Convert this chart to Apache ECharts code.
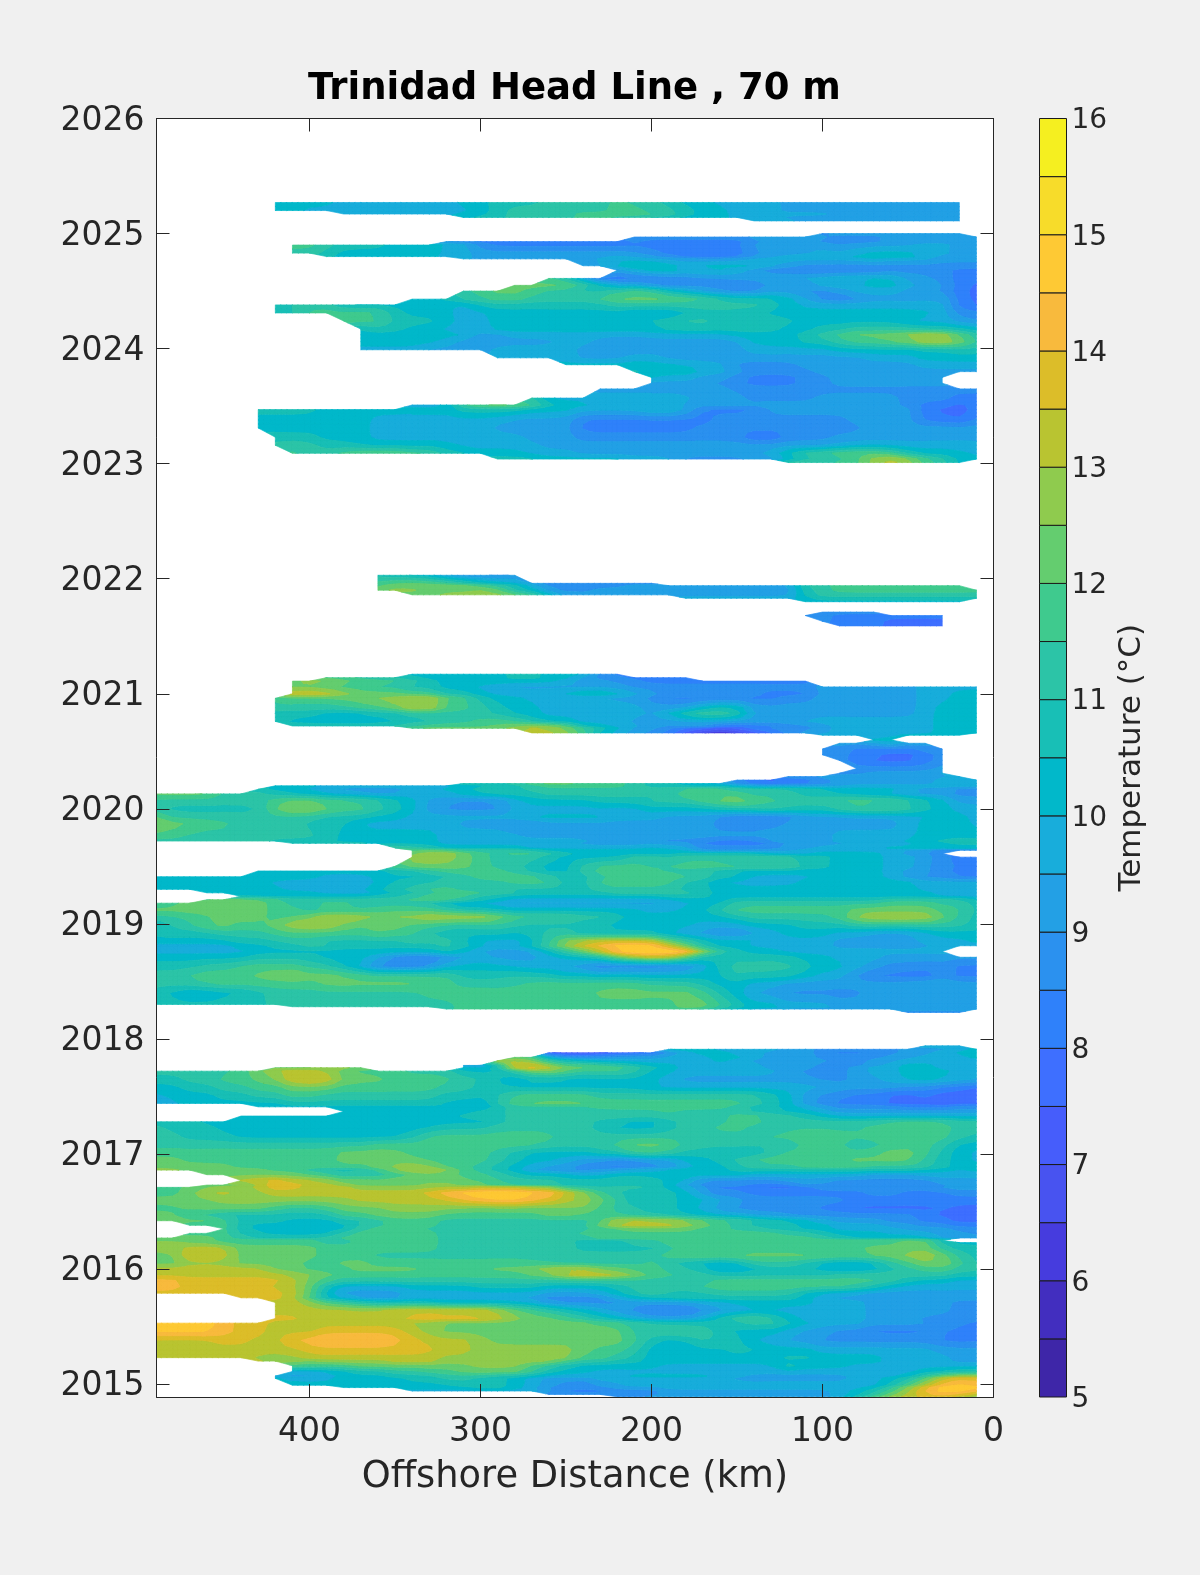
<!DOCTYPE html>
<html><head><meta charset="utf-8"><style>html,body{margin:0;padding:0;background:#F0F0F0}#c{width:1200px;height:1575px}</style>
<script src="https://cdn.jsdelivr.net/npm/echarts@6/dist/echarts.min.js"></script></head><body><div id="c"></div>
<script>
const yearTicks=[2015,2016,2017,2018,2019,2020,2021,2022,2023,2024,2025,2026];
const kmTicks=[0,100,200,300,400];
const colorbarTicks=[5,6,7,8,9,10,11,12,13,14,15,16];
const levelColors=["#3E26A8","#422EBF","#463CDE","#4853F0","#465DFB","#3E6FFF","#2F81FA","#2B91EF","#23A0E5","#18ADDB","#01B8CA","#18BFB6","#2CC4A7","#3FCA8E","#64CD6F","#8FCB4E","#B9C431","#DCBD29","#F8BA3D","#FEC934","#F7DC2A","#F5EF20"];
const levelLetters="abcdefghijklmnopqrstuv"; // a = 5.0-5.5 C, b = 5.5-6.0 C ... v = 15.5-16 C
const firstKm=490, stepKm=10; // columns run 490, 480 ... 10 km
// [year, temperature band per column; groups of ten columns; "." = no data]
const rows=[
[2025.27,".......kkk kjjjjjjjkk lllmmmmnmm lkkjjjjiii iiiiiiii."],
[2025.20,".......kkj jjjjjjjjjk lmmmmmmnnm mlkkjjjiii iiiiiiii."],
[2025.17,".......... .jjjjjjjkk lmmmmnnnnn mlkkjjjjjj iiiiiiii."],
[2025.14,".......... ........kl lmmmmnnmml lkkkjjjiii iiiiiiii."],
[2025.11,".......... .......... .......... .....jjjii iiiiiiii."],
[2025.06,""],
[2025.00,".......... .......... .......... .........h iiiiiiii."],
[2024.97,".......... .......... ........hh hhhhhiiiii hhhiiiiii"],
[2024.93,".......... .......hhg gggggggghg ggggghiiih hhhiiiiii"],
[2024.90,"........nn mlllkkkkjh gggggggggg gggggiiiji hiiiijjii"],
[2024.83,"........mm lkkkkkkjji iiiiiiiiih ggggghiiij jjkkkjjii"],
[2024.80,".......... lkkkkkkjji iiiiiiijii hggggiijjj jkkkkjiii"],
[2024.78,".......... ........ji iiiiiijjji iihhiijjjj jjkjjjiii"],
[2024.72,".......... .......... .....iikll kjkkkkjihh hhhhhhhhh"],
[2024.68,".......... .......... .......ijk ljkkjigggg ggghhhhgg"],
[2024.61,".......... .......... ...nliffgg ghhhiijjjj kkkkiihgg"],
[2024.55,".......... .......... .oooonljjh hhhhggiiij jjkkjiigf"],
[2024.50,".......... ........mn oonmmllmnn kjihhhiihh ijjjiihgf"],
[2024.43,".......... .....kklmm nnmmmmnooo oonmlllkjh ghiiiijgf"],
[2024.38,".......kmm mkkkkkkjjl lllllllmmm mmmmmmlkjj jjjjjjjgf"],
[2024.31,".......lln nnnnlkkkjj kkkkkkkkjj jkllllkkkk kkkkkkjhh"],
[2024.24,".......... .nnnlllkjj kkkkkkkkkl lmmlllllkk kkkkjjjih"],
[2024.17,".......... ..kllkkjjj kkkkkkkkkk lllllllkkl lmmmmlllk"],
[2024.12,".......... ..kkkkkkki ijjjjjjjjj jjjjkkkklm nooopqqnm"],
[2024.06,".......... ..kkkkkjih iiiijjihhi iiiiikkkll mnnooqqpm"],
[2023.99,".......... ..jjjjiiii jjjjjiiiii iiiiijjjjj kkkkkkkll"],
[2023.92,".......... .......... jjjjjiiijj iiiiiiiiii iijjjkkkk"],
[2023.86,".......... .......... ....kkkkkk kjjjhhhhii iiiiijjjj"],
[2023.80,".......... .......... ........lk kljjihhhhi iiiiiiiii"],
[2023.75,".......... .......... .........k jjiihggghh iiiiiii.."],
[2023.70,".......... .......... .........i iiihhggghh iiiiiii.."],
[2023.65,".......... .......... ......iiii iiiihhhhhh hhhhhhhhh"],
[2023.57,".......... .......... ..mjjjjjjj jjiiihhhhi iiiihhhgg"],
[2023.51,".......... .....jjjno oonlkkjjjj jiiiiiiiii iiiihggfg"],
[2023.47,"......llll kkkkkkkkll llkkkjjjjk kjggggiiii iiiiigffg"],
[2023.38,"......kkkk kkkjjjjjjj jiiiiggggg ggghhhhhhh hiiiiggfh"],
[2023.31,"......kkkk kkkjjjjjjj iiiiiggggg gghhhhhhhh hhiiiiiii"],
[2023.23,".......lll kkkjjjjjjj jjiiihhhhh hhhhhffhhh iiiiiiiii"],
[2023.16,".......mmm llkkkkkkjj jjjiiiiiii iiiiiiiiii ijjjjjjjj"],
[2023.09,"........nm mnooonnllk kkjjjiiiii iiiiiijlmn ooonlkkkj"],
[2023.04,".......... .......... lllkkkkkjj jhhhhiijml mnpqpnmkk"],
[2023.01,".......... .......... .......... .......mmm nnpqpnmk."],
[2022.50,""],
[2022.03,".......... ...lkkjihh hh........ .......... ........."],
[2021.96,".......... ...nooonml kkihhhhhhh .......... ........."],
[2021.94,".......... ...nooooon mljhhhhhii iiiiiiiimm nnnnnnnn."],
[2021.90,".......... ...oppooop olkihhiiii iiiiiiiilm nnnnnnnnn"],
[2021.86,".......... .....ooppp ponkiiiiii iiiiiiiilm mmmmmmmmm"],
[2021.83,".......... .......... .......... .jjjjjjjkl lllllllll"],
[2021.80,".......... .......... .......... ........kk kkkkkkkk."],
[2021.75,""],
[2021.71,".......... .......... .......... .........h hhh......"],
[2021.68,".......... .......... .......... ........hh ggggggg.."],
[2021.63,".......... .......... .......... .........h gggffff.."],
[2021.59,".......... .......... .......... .......... gggffff.."],
[2021.40,""],
[2021.17,".......... .....kkkkk kllkkkhg.. .......... ........."],
[2021.14,".......... nnmmllkkkk kllkkihhgg gg........ ........."],
[2021.11,"........op ponnnmlkkk kkkkjiihhg ggggggggg. ........."],
[2021.06,"........oo nnnmmllkkj jiiiiiiihh hhhhhhhhhi iiiiijjjj"],
[2021.00,"........rr rpooonnllk jjjjkllkji hhhhhhgggi iiiiijjkk"],
[2020.96,".......nnn nooppqqonl kkjjiiiiih ggggggghhi iiiiijjkk"],
[2020.88,".......mmm mmnnoqqnnm lkkjjjjjji iiklliiiii iiiiijkkk"],
[2020.83,".......lll kkkllmmmmm lkkjjjjjji kmnnmiiiii iiiiijkkk"],
[2020.76,".......lkk kkkkkllmmn nnlkkjjjii iiiiiiiijj jjjjjjkkk"],
[2020.72,"........ll llllmmnnnn ooppokkjji hiigfgghhi jjjjjjkkk"],
[2020.70,".......... .....noooo opqponlkii hffefghhhi jjjjjjkkk"],
[2020.66,".......... .......... ..qqpnkjih gecbcefhii jjjjjjkkk"],
[2020.64,".......... .......... .......... .........j jjjjkkkk."],
[2020.60,".......... .......... .......... .......... ..kk....."],
[2020.57,".......... .......... .......... .......... iiikii..."],
[2020.52,".......... .......... .......... .........h hgggghh.."],
[2020.47,".......... .......... .......... .........h hggffgh.."],
[2020.42,".......... .......... .......... .......... hgfffgh.."],
[2020.35,".......... .......... .......... .......... .hhhhhi.."],
[2020.31,".......... .......... .......... .......... hhiiiij.."],
[2020.28,".......... .......... .......... .......hhi iiiiiiij."],
[2020.25,".......... .......... .......... ....hgfggh iiiiiijjj"],
[2020.22,".......... ........ll lmnoonnnml lkkjhgfggh iiiiiijjj"],
[2020.20,".......kkk jjjjjjjjkk llmnnnnnml lkkkjiiiii ijjjjjjjj"],
[2020.17,"......lkkj jiiiijjkkl llmmmmmmmm mnnnmmmmll kkkkjiihh"],
[2020.13,"oooommmlkk jjiiijjjkl lllmmmmmml mnonnmmmll kkjjiiihh"],
[2020.07,"mmmmmmmnoo nnnmlkiihh hjkkkklllm mmnopnnmmm nnnnmlkii"],
[2020.00,"mllllllopp onnmlkihhh hjjjjjjjjk kkkllmmmll mnnnmlkjj"],
[2019.93,"ommmmmmmmm lllkkjjjjj jjkkkkkjjj iiihggggii iiiijjkkj"],
[2019.87,"poonnmmmml lljjjjjjii ihhiiiiiii iiihhhhiii iiiijkkkj"],
[2019.77,"nnmmmmmmmm lkkkkkkjjj jjiiiiiiii iiiiiiiiii jjjjjkkkk"],
[2019.72,"mmmmmmmlll lkkkkkkjjj jjjjjjiiii hhhgggiiii jjjjkklll"],
[2019.70,"........ll lllkkkkjjj jjjjjiiiii iigggggiii ijjjjkkll"],
[2019.66,".......... ....nmlkkk kkjjjjjjjk jjhhhhhiij jjjkkkkkk"],
[2019.64,".......... .....nonmm mmlkkkkkkk kjhhhhiijj jjjjiiggg"],
[2019.61,".......... .....opqon mnnmlkkkkk kllllljjjk kkkjiig.."],
[2019.58,".......... .....pqpon mmmlkkkkmm lmmmmmmmll kkkjjihgg"],
[2019.50,".......... ....noooon mmlkkmnnnm nnnnnnnnll kkkjjighg"],
[2019.46,"......kkkk kkkkllmnnn nmlkkmnnnn mmmlkkkkkk kkkjiihgg"],
[2019.41,"kkkkkkkkkk jjjkkkllmn nnnmllmnnn nnmlljjjjk kkkjihhgg"],
[2019.36,"kkkkkkkjjj jjjjlllmmm mnnnllnnnn nlljjjjjkk kkkkkjjjj"],
[2019.30,"kkkkkkkkjj jjjllmnnmm mlllllmmmm mllkkkkkkk kkkkkjjjj"],
[2019.27,"...kkkkkkk jjjjllmnnn mmlllllmmm mmlkkkkkkk kkkkkkjjj"],
[2019.24,".....kkkkk kkkllmnnnl lkkkkkkkkk lllkkkkkkk kkkkkkjjj"],
[2019.21,"...nooonmm mmmmmnnnml kjjjjjjjjj jkkkllllll lllmmmmmk"],
[2019.18,"nnooooonmm nnmmmmlkjj jiiiiiiiii jjkkmmmmmm mmmnnnmml"],
[2019.12,"ooooooonnm mmmnnnnmll kkkkkkkkkj jkkmnnnnnn nooooonnl"],
[2019.06,"mmnnooonno qqqoppqqqq pnnnnmmlkk kkkklmmmmm npqqqqoml"],
[2018.99,"kmmoonnoqq qonoonnmmm mmlllllkkk kkjjjkkkll lmmmmmmml"],
[2018.92,"llllmmmnnn nnnonnllkl lklmmkkkkk jiihhijkkk jjiiijkkk"],
[2018.85,"kkkkklllmm lllllmmmlj jjkmpqrrrr onlkkkjjjj iiiiijjjk"],
[2018.81,"jjjjjkkllm mllllllmlk jjlnprsttt qnlkkjjjjj iiiiiijjj"],
[2018.76,"jjjjjjkkkk kkkkkkklki iiikmoqtuu uuqmlkkjjj jjjjjjj.."],
[2018.71,"kkkkkkllll kkkjhgghij iiijkkmoqr roklllllkk jjjiiiiii"],
[2018.63,"lllmmnnnnm mkjggghjkk kjjjiifgff fgjlmmmmlk kjihhhhgg"],
[2018.55,"mmnnnnoopo oonnnnnnll lmllkkkkkk kkkkmlllkj jhgggfhgg"],
[2018.48,"mmmnnnnnnn oooooonnmm mmnnnnnnnm mmlkkjjiii iiiiijjii"],
[2018.40,"lkjjkklmmm mmmmmmnnnn nnnnnnoooo oonlkiihhh hhiiiiiii"],
[2018.30,"lllllllmmm mmmmmmmmnn nnnnnnnnnn noonlkkjjj iiiiiiiii"],
[2018.28,"........mm mmmmmmmmnn nnnnnnnnnn noomlkkjjj iiiiiiiii"],
[2018.26,".......... .......mnn nnnnnnnnnn nnmlkjjiii iiiiiiiii"],
[2018.23,".......... .......... .......... .......... ....hhhh."],
[2018.10,""],
[2017.94,".......... .......... .......... .......... .....jjj."],
[2017.91,".......... .......... .......... kkkjjjjiih hhhhiiijk"],
[2017.88,".......... .......... ...eddeeff hjkkjjiiih gghhiijkk"],
[2017.84,".......... .......... .nojhhhiii jjjkkjiiih hhhiijjjk"],
[2017.81,".......... .......... qqomlkjjjj jjjkjiiiii hhiijjjjj"],
[2017.77,".......... ........ii krrpnnnmlk kjjjjjiiih hhijkkjjj"],
[2017.75,".......ooo ppo.....kj lrrqoonnml kjjjjjiiih hijjkkjjj"],
[2017.72,"mmmmmnoqqq ponnnmmmkk llppomnnmk kjjjjjjihh hijjkkkjj"],
[2017.65,"llmmnnoorr rooonnnnmm kkkkkkkkkk jiiiiiiiih hiijkkkjj"],
[2017.58,"kkllmmnnoo onnnnnnmml lkkkkkkkkj jjjjjjjjjj iiiihhggf"],
[2017.51,"jkkkllmmnn mmmmmmmlll lnnnnnmmmm mmmmmmlkih hggffgffe"],
[2017.44,"jjkkkkkkll lllllllkkj mnoooonnnn nnnnnmlkih gggfffeff"],
[2017.41,"......kkkk kkkkkkklkj lmmmmmnnnn nnnnmllkji hhhhggghh"],
[2017.37,".......... .kkkkkkkkl lmmmmmmmmm nmmmmllkkj iiiiiiiii"],
[2017.33,".....kkkkk kkkkkkkkll lmmmmmmmmm mmmmnnmmlk jjjjjjjjj"],
[2017.28,"lllkkkkkkk kkkkkkkkkk lmmmmmllkk lmmmnnmmmm mmmnnnnmm"],
[2017.23,"mlllkkkkkk kkkkkkklll mmmmmmlkkk lmmnnmmmmm mmnnnnnmm"],
[2017.15,"mmlllkkkkk kkkkklnnnn nnnnmmmmmm mmmmmmnnoo nnnnnnnml"],
[2017.08,"mmmmmmmmmm mmmnnnnnnn nnnmmmmnoo ommmmmllnn nlmnnnmkk"],
[2017.01,"nnnnnnnnnn noooonnnnn mlkkkkllnn mllkkkmnnn nnnoonlkj"],
[2016.95,"oonnnnnnnn nooooonnnn mlkkjiihhi ikklmnnnnn noooomlkj"],
[2016.89,"ooooonnnnn nnnopppnnm lkjiihgggh hjkklmmmnn nnmmmmlkk"],
[2016.86,"ppooooonnm lllnoqqpnm lkiihhiijj kkkkllllll lllllkkjk"],
[2016.82,"...oooooon nlmlnnoonn mlkkkjjkkk kkkkkjjjjj jjiiijjjj"],
[2016.77,".....qrrqq poooooooon nmmmlllmml kkhhhhhiii hhhhhhiii"],
[2016.73,"...ooopsrq qpooooppoo mmmmlllllm kihhhgggih hhhhhhhii"],
[2016.71,"nnooppqrrq qqpppppppq qqppmmlmml kjigggffgh hhhhhhiii"],
[2016.66,"nnoqqppqqq qqqqqqrttu uuttrpnllm lkighggggg gghhggghh"],
[2016.60,"oooopppppp ppqqqqqqss ttsrqponkk lkkjihhhhh hgggggggg"],
[2016.53,"nnooooonmm noooppppoo ooooopnmml lkjihhhhhg gfffffgff"],
[2016.47,"oommllllll lnnoooonnn nnnoonnmml lkkjjiihhh hhhhhgfff"],
[2016.42,"oooonlllkk kllmnnnmmm mmmmmmnqqq qponnmllkj iiihhggff"],
[2016.38,"..nnnlkkkk kkmmnnnmmm mmmmmmoqqq qponmlllkk jjjiihhgg"],
[2016.35,"....nlkkkk kkmnnnmmmm mmmmmmnnoo oonnmmllkk jjjjiiihh"],
[2016.31,"..nnnllkkk kmnnnnnmmm mmmmmnnnnn nnnnnnnmml kkkjjjiih"],
[2016.27,"oooonmllll mnnnnnnmmm mmmmmmnnnn nnnnnnnnnm lkkkkjiii"],
[2016.25,"oooonnnnnn mmnnnnnmmm mmmmmlllmm nnnnnnnnnn nnnnool.."],
[2016.23,"ppoonnnnnn mmnnnnnmmm mmmmmlllmm nnnnnnnnnn nnnnoolkk"],
[2016.18,"ppqqqooooo nnnnnnnmmm mmmmmlllll mnnnnnnnnn nnoooomll"],
[2016.12,"oorrqooooo nnnmmmmmmm mmmmmmmmmm nooooooooo oooopqoml"],
[2016.05,"oopppoooon noonnnnnnn nnnmmmmmmn mkkjkmmmlk jjkmnopnl"],
[2016.00,"qqqqqqqoon nnoooonnnn oooqqqoonn mmljjklllk jjklmnnmm"],
[2015.95,"qqqqqqqqpp onnnnnnnnn nnooqrrqpn nmmlllllll mmmmmmmll"],
[2015.90,"ssrrrrrrqo nmmmmmmmmm mmmmmmmmmm mmmnnnnnnn nnnmlkkjj"],
[2015.85,"ssrrrrrqqo ljjjjkkkkl lllkkkklmm mmnnnnnnnn nnlkjjjjj"],
[2015.79,"rrrrrqrrqo kiiiijjjjj jjjiiijkln lllmmmmmkj jiiiiiiii"],
[2015.75,".....rrrqn kjiiijjjjj jjihhhhjkk llllllllkj iiihiiiii"],
[2015.71,".......qqp nmlkkkkjjj jjjhhhhhii iijjkkkkkj jjiiiiihh"],
[2015.64,".......qqq qqqqrrrrrr qonmlkjihg gghiijjjjj jjiiiiihh"],
[2015.57,".......rrq qqqqqrrrrr qpoonmlkji iijlnnmkjj jjiiihhhh"],
[2015.53,"ttttsrrqqq qqqqqppooo oooooonnmm lllllmmlkj jjiiiihhg"],
[2015.46,"ttttsrrqqq rrrrrqpooo oooooooomm nnmlkkkjii hhgggghgg"],
[2015.38,"qqqqrrqqss ttttsrqqqp oooooooonl kkmmljjiih hhhhhhggg"],
[2015.30,"qqqqqqqqqr rrrrrrrqqp ppppponnmk jkkkllkkkj jjjjjjiii"],
[2015.23,"qqqqqqpppq qqqqqqqppp pppppnnmlk kkkkkkkllk kkkjjjjii"],
[2015.20,"......qppo ppppqqqppp ppppnmmllk kkkkkkkkkk kkkjjjjii"],
[2015.16,"........on nnooooooop ppnmlkkkkk jjjjjjjmkk kjjjjjjjj"],
[2015.11,"........ij jkllmmnnoo oonlkkjjjj jjjjjjjjjj jjjjjkkll"],
[2015.07,".......jii jkkklllmmm llkjjjjjkk kkkjjiiiii ijjjkmopp"],
[2015.05,".......kjj jkkkkllmml lkjiiijjjj jjjjiiiiii ijjklnqrr"],
[2014.99,"........kk kkkkkkkkll lkjihgiijj jjjjjjjjjj jjjlnqsts"],
[2014.97,".......... .kkkkkkkkl lkjhhhhiii jjjjjjjjjj jjkmprtut"],
[2014.94,".......... .....jjjjj jjjiggghhh iiiiiiiiii jklnpsttr"],
[2014.91,".......... .......... ...hhhhhhh iiiiiiiiii jkmoqrsrq"],
[2014.89,".......... .......... .......hhi iiiiiiiiii jlnpqrrqo"]
];
const nCols=49;
function parseRow(s){
  const sizes=[10,10,10,10,9], parts=s?s.split(' '):[], out=[];
  sizes.forEach((n,i)=>{
    const p=(parts[i]||'.'.repeat(n)).padEnd(n,'.').slice(0,n);
    for(const ch of p){const k=levelLetters.indexOf(ch);out.push(k<0?null:5+0.5*k+0.25);}
  });
  return out;
}
const rawGrid=rows.map(r=>parseRow(r[1]));
const years=rows.map(r=>r[0]);
// contourf-style drawing: a light blend with adjacent read values, then smooth curves between them
const grid=rawGrid.map((row,r)=>row.map((v,c)=>{
  if(v===null)return null;
  let sum=0.44*v,w=0.44;
  [[0,-1,0.15],[0,1,0.15],[-1,0,0.13],[1,0,0.13]].forEach(([dr,dc,wt])=>{
    const nb=(rawGrid[r+dr]||[])[c+dc];
    if(nb!==null&&nb!==undefined){sum+=wt*nb;w+=wt;}
  });
  return sum/w;
}));
function hermite(v0,v1,m0,m1,t){
  const t2=t*t,t3=t2*t;
  return (2*t3-3*t2+1)*v0+(t3-2*t2+t)*m0+(-2*t3+3*t2)*v1+(t3-t2)*m1;
}
function limit(m,d){ // keep the curve monotone between nodes
  if(d===0||m*d<=0)return 0;
  return Math.abs(m)>2*Math.abs(d)?2*d:m;
}
function alongRow(r,c,t){
  const g=grid[r],a=g[c],b=g[c+1];
  if(a===null||b===null||a===undefined||b===undefined)return null;
  const p=c>0?g[c-1]:null,n=c+2<nCols?g[c+2]:null,d=b-a;
  const m0=p===null?d:limit((b-p)/2,d),m1=n===null?d:limit((n-a)/2,d);
  return hermite(a,b,m0,m1,t);
}
function valueAt(r,c,tr,tc){
  const a=alongRow(r,c,tc),b=alongRow(r+1,c,tc);
  const h=years[r]-years[r+1],d=b-a;
  const p=r>0?alongRow(r-1,c,tc):null,n=r+2<rows.length?alongRow(r+2,c,tc):null;
  const m0=p===null?d:limit((b-p)/(years[r-1]-years[r+1])*h,d);
  const m1=n===null?d:limit((n-a)/(years[r]-years[r+2])*h,d);
  return hermite(a,b,m0,m1,tr);
}
function clip(poly,t,above){
  const o=[];
  for(let i=0;i<poly.length;i++){
    const a=poly[i],b=poly[(i+1)%poly.length];
    const ia=above?a[2]>=t:a[2]<=t, ib=above?b[2]>=t:b[2]<=t;
    if(ia)o.push(a);
    if(ia!==ib){const f=(t-a[2])/(b[2]-a[2]);o.push([a[0]+f*(b[0]-a[0]),a[1]+f*(b[1]-a[1]),t]);}
  }
  return o;
}
const polysByLevel=levelColors.map(()=>[]);
function addTri(t){
  const vs=t.map(p=>p[2]);
  const lo=Math.max(0,Math.floor((Math.min(...vs)-5)*2)),hi=Math.min(levelColors.length-1,Math.floor((Math.max(...vs)-5)*2));
  for(let k=lo;k<=hi;k++){
    let p=clip(t,5+0.5*k,true);
    if(p.length>2)p=clip(p,5+0.5*k+0.5,false);
    if(p.length>2)polysByLevel[k].push(p);
  }
}
const subX=3;
for(let r=0;r<rows.length-1;r++){
  const subY=Math.max(1,Math.min(4,Math.round((years[r]-years[r+1])*115/4)));
  for(let c=0;c<nCols-1;c++){
    const x0=firstKm-stepKm*c,x1=x0-stepKm,y0=years[r],y1=years[r+1];
    const a=grid[r][c],b=grid[r][c+1],d=grid[r+1][c],e=grid[r+1][c+1];
    const n=(a!==null)+(b!==null)+(d!==null)+(e!==null);
    if(n===3){
      addTri([[x0,y0,a],[x1,y0,b],[x1,y1,e],[x0,y1,d]].filter(p=>p[2]!==null));
    }else if(n===4){
      for(let i=0;i<subY;i++)for(let j=0;j<subX;j++){
        const tr0=i/subY,tr1=(i+1)/subY,tc0=j/subX,tc1=(j+1)/subX;
        const X0=x0+(x1-x0)*tc0,X1=x0+(x1-x0)*tc1,Y0=y0+(y1-y0)*tr0,Y1=y0+(y1-y0)*tr1;
        const A=[X0,Y0,valueAt(r,c,tr0,tc0)],B=[X1,Y0,valueAt(r,c,tr0,tc1)],
              D=[X0,Y1,valueAt(r,c,tr1,tc0)],E=[X1,Y1,valueAt(r,c,tr1,tc1)];
        if(Math.abs(A[2]-E[2])<=Math.abs(B[2]-D[2])){addTri([A,B,E]);addTri([A,E,D]);}
        else{addTri([A,B,D]);addTri([B,E,D]);}
      }
    }
  }
}
const txt='#262626';
const tickStyle={lineStyle:{color:txt,width:1}};
const lineStyle={show:true,onZero:false,lineStyle:{color:txt,width:1}};
const chart=echarts.init(document.getElementById('c'),null,{renderer:'canvas'});
chart.setOption({
  animation:false,
  backgroundColor:'#F0F0F0',
  textStyle:{fontFamily:'DejaVu Sans'},
  title:{text:'Trinidad Head Line , 70 m',left:569.5,top:66,textAlign:'center',
    textStyle:{fontFamily:'DejaVu Sans',fontWeight:'bold',fontSize:37,color:'#000'}},
  grid:[
    {left:156.5,top:118.5,width:837,height:1278.5,show:true,backgroundColor:'#fff',borderWidth:0},
    {left:1039.5,top:118.5,width:27,height:1278.5,show:false}
  ],
  xAxis:[
    {type:'value',gridIndex:0,inverse:true,min:0,max:489.5,position:'bottom',z:10,splitLine:{show:false},
      axisLine:lineStyle,
      axisTick:{show:true,inside:true,length:13,customValues:kmTicks,...tickStyle},
      axisLabel:{margin:19,fontSize:33,color:txt,fontFamily:'DejaVu Sans',customValues:kmTicks,formatter:v=>String(v)},
      name:'Offshore Distance (km)',nameLocation:'middle',nameGap:62,
      nameTextStyle:{fontSize:36.8,color:txt,fontFamily:'DejaVu Sans'}},
    {type:'value',gridIndex:0,inverse:true,min:0,max:489.5,position:'top',z:10,splitLine:{show:false},
      axisLine:lineStyle,
      axisTick:{show:true,inside:true,length:13,customValues:kmTicks,...tickStyle},
      axisLabel:{show:false}},
    {type:'value',gridIndex:1,min:0,max:1,show:false}
  ],
  yAxis:[
    {type:'value',gridIndex:0,min:2014.888,max:2026,position:'left',z:10,splitLine:{show:false},
      axisLine:lineStyle,
      axisTick:{show:true,inside:true,length:13,customValues:yearTicks,...tickStyle},
      axisLabel:{margin:12,customValues:yearTicks,formatter:v=>'{a|'+v+'}',
        rich:{a:{fontSize:33,color:txt,fontFamily:'DejaVu Sans',padding:[5,0,0,0]}}}},
    {type:'value',gridIndex:0,min:2014.888,max:2026,position:'right',z:10,splitLine:{show:false},
      axisLine:lineStyle,
      axisTick:{show:true,inside:true,length:13,customValues:yearTicks,...tickStyle},
      axisLabel:{show:false}},
    {type:'value',gridIndex:1,min:5,max:16,interval:1,position:'right',z:10,splitLine:{show:false},
      axisLine:{show:false},axisTick:{show:false},
      axisLabel:{margin:5,customValues:colorbarTicks,formatter:v=>'{a|'+v+'}',
        rich:{a:{fontSize:28,color:txt,fontFamily:'DejaVu Sans',padding:[5,0,0,0]}}},
      name:'Temperature (°C)',nameLocation:'middle',nameRotate:90,nameGap:50,
      nameTextStyle:{fontSize:31,color:txt,fontFamily:'DejaVu Sans'}}
  ],
  series:[
    {type:'custom',name:'Temperature',xAxisIndex:0,yAxisIndex:0,clip:true,silent:true,progressive:0,
      data:levelColors.map((c,i)=>[300,2020,i]),encode:{x:0,y:1},
      renderItem:function(params,api){
        const k=api.value(2),col=levelColors[k],parts=[];
        for(const poly of polysByLevel[k]){
          poly.forEach((q,i)=>{const pt=api.coord([q[0],q[1]]);parts.push((i?'L':'M')+pt[0].toFixed(2)+' '+pt[1].toFixed(2));});
          parts.push('Z');
        }
        if(!parts.length)return null;
        return {type:'path',shape:{pathData:parts.join(' ')},style:{fill:col,stroke:col,lineWidth:0.7}};
      }},
    {type:'custom',name:'Colorbar',xAxisIndex:2,yAxisIndex:2,silent:true,progressive:0,
      data:levelColors.map((c,i)=>[0,5+0.5*i,i]),encode:{x:0,y:1},
      renderItem:function(params,api){
        const i=api.value(2),a=api.coord([0,5+0.5*i]),b=api.coord([1,5+0.5*i+0.5]);
        return {type:'rect',shape:{x:a[0],y:b[1],width:b[0]-a[0],height:a[1]-b[1]},
          style:{fill:levelColors[i],stroke:'#1a1a1a',lineWidth:1}};
      }}
  ]
});
</script></body></html>
